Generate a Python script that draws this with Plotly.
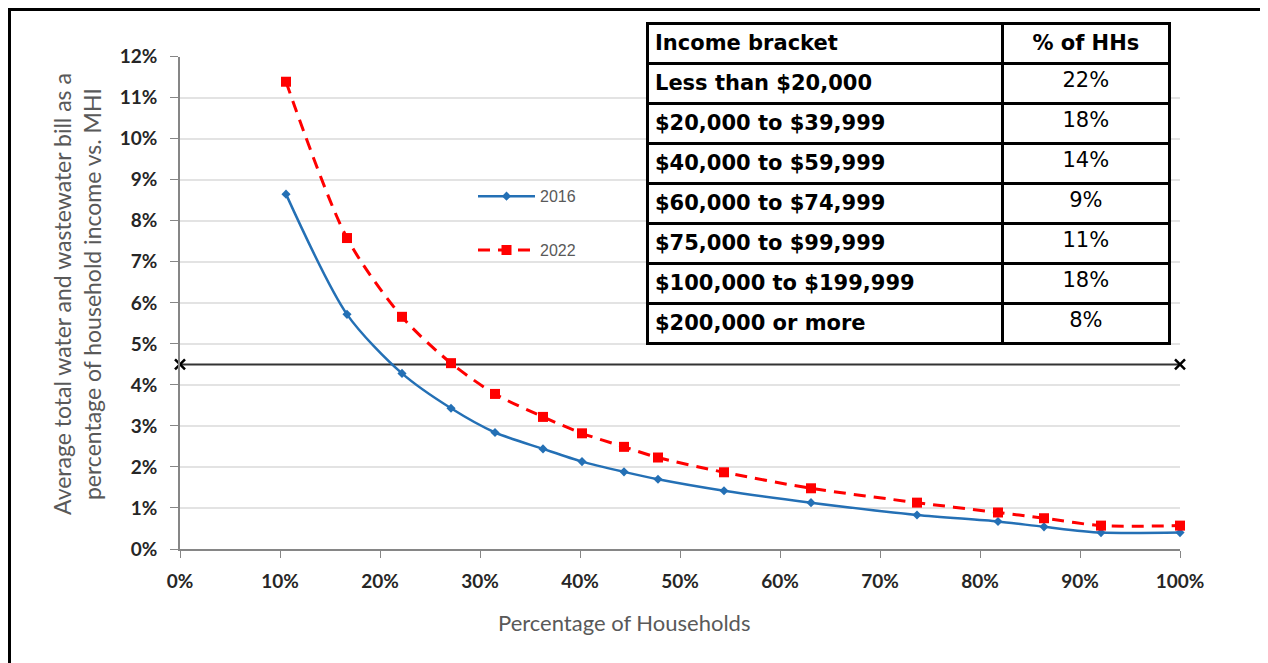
import plotly.graph_objects as go

# cumulative share of households (%) at each income point
households_pct = [10.6, 16.7, 22.2, 27.1, 31.5, 36.3, 40.2, 44.4, 47.8, 54.4,
                  63.1, 73.7, 81.8, 86.4, 92.1, 100.0]

# average water + wastewater bill as % of household income
bill_2016 = [8.65, 5.72, 4.28, 3.43, 2.84, 2.44, 2.13, 1.88, 1.70, 1.42,
             1.13, 0.83, 0.67, 0.54, 0.40, 0.40]
bill_2022 = [11.39, 7.58, 5.66, 4.53, 3.78, 3.22, 2.82, 2.49, 2.23, 1.87,
             1.48, 1.13, 0.89, 0.75, 0.57, 0.57]

# affordability threshold
threshold_x = [0, 100]
threshold_y = [4.5, 4.5]

income_brackets = ["Less than $20,000", "$20,000 to $39,999", "$40,000 to $59,999",
                   "$60,000 to $74,999", "$75,000 to $99,999", "$100,000 to $199,999",
                   "$200,000 or more"]
share_of_hhs = ["22%", "18%", "14%", "9%", "11%", "18%", "8%"]

y_ticks = list(range(0, 13))
x_ticks = list(range(0, 101, 10))

TICK_FONT = dict(family="Lato", size=19, color="#262626", weight=700)
TABLE_FONT = dict(family="DejaVu Sans", size=21, color="black")

fig = go.Figure()

fig.add_trace(go.Scatter(
    x=threshold_x, y=threshold_y, mode="lines+markers",
    line=dict(color="#333333", width=2),
    marker=dict(symbol="x-thin", size=10, line=dict(color="black", width=2.5)),
    showlegend=False, cliponaxis=False, hoverinfo="skip",
))

fig.add_trace(go.Scatter(
    x=households_pct, y=bill_2016, name="2016", mode="lines+markers",
    line=dict(color="#2470B5", width=2.5, shape="spline", smoothing=0.8),
    marker=dict(symbol="diamond", size=7, color="#2470B5"),
    legendgroup="a", cliponaxis=False,
))

fig.add_trace(go.Scatter(
    x=households_pct, y=bill_2022, name="2022", mode="lines+markers",
    line=dict(color="#FF0000", width=3, dash="12px,8px", shape="spline", smoothing=0.8),
    marker=dict(symbol="square", size=10, color="#FF0000"),
    legendgroup="b", cliponaxis=False,
))

fig.add_trace(go.Table(
    domain=dict(x=[0.467, 0.989], y=[0.385, 0.9943]),
    columnwidth=[355, 166],
    header=dict(
        values=["<b>Income bracket</b>", "<b>% of HHs</b>"],
        align=["left", "center"],
        fill_color="white",
        line=dict(color="black", width=3),
        font=TABLE_FONT,
        height=40,
    ),
    cells=dict(
        values=[["<b>" + b + "</b>" for b in income_brackets], share_of_hhs],
        align=["left", "center"],
        fill_color="white",
        line=dict(color="black", width=3),
        font=TABLE_FONT,
        height=40,
    ),
))

fig.update_layout(
    width=1268, height=663,
    margin=dict(l=172, r=96, t=12, b=122, autoexpand=False),
    paper_bgcolor="white", plot_bgcolor="white",
    xaxis=dict(
        range=[0, 100], tickvals=x_ticks, ticktext=[f"{v}%" for v in x_ticks],
        showgrid=False, zeroline=False,
        showline=True, linecolor="#868686", linewidth=1.5,
        ticks="outside", ticklen=7, tickcolor="#868686",
        tickfont=TICK_FONT, ticklabelstandoff=7,
    ),
    yaxis=dict(
        range=[0, 12], tickvals=y_ticks, ticktext=[f"{v}%" for v in y_ticks],
        domain=[0, 0.9306],
        showgrid=True, gridcolor="#E3E3E3", gridwidth=1.5, zeroline=False,
        showline=True, linecolor="#868686", linewidth=1.5,
        ticks="outside", ticklen=8, tickcolor="#868686",
        tickfont=TICK_FONT, ticklabelstandoff=9,
    ),
    legend=dict(
        x=0.293, y=0.699, xanchor="left", yanchor="top",
        bgcolor="rgba(0,0,0,0)", itemwidth=57, tracegroupgap=30,
        font=dict(family="Liberation Sans", size=16, color="#595959"),
    ),
    annotations=[
        dict(text="Percentage of Households", x=0.444, y=-0.138,
             xref="paper", yref="paper", xanchor="center", yanchor="middle",
             showarrow=False,
             font=dict(family="Lato", size=22, color="#595959")),
        dict(text="Average total water and wastewater bill as a<br>"
                  "percentage of household income vs. MHI",
             x=-0.103, y=0.482, xref="paper", yref="paper",
             xanchor="center", yanchor="middle", showarrow=False,
             textangle=-90,
             font=dict(family="Lato", size=23, color="#595959")),
    ],
    shapes=[
        dict(type="rect", xref="paper", yref="paper",
             x0=-0.1705, x1=1.085, y0=-0.3, y1=1.0198,
             line=dict(color="black", width=3)),
    ],
    showlegend=True,
)

fig.write_html("out.html")
